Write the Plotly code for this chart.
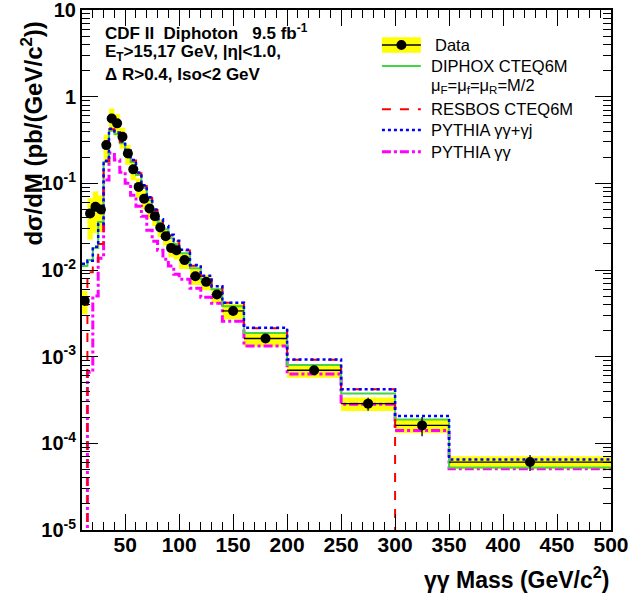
import plotly.graph_objects as go

# ---------------- data ----------------
bin_edges = [10, 15, 20, 25, 30, 35, 40, 45, 50, 55, 60, 65, 70, 75, 80, 85, 90, 95, 100,
             110, 120, 130, 140, 160, 200, 250, 300, 350, 500]

data_vals = [4.4e-3, 0.045, 0.0536, 0.050, 0.276, 0.561, 0.492, 0.344, 0.221, 0.145,
             0.091, 0.0665, 0.0513, 0.0418, 0.031, 0.0245, 0.018, 0.0169, 0.0130, 0.00848,
             0.0073, 0.00521, 0.00337, 0.00162, 0.000697, 0.000287, 0.000161, 0.0000608]

stat_rel = [0.06, 0.04, 0.04, 0.04, 0.02, 0.02, 0.02, 0.02, 0.02, 0.02, 0.02, 0.03, 0.03, 0.03,
            0.03, 0.03, 0.04, 0.04, 0.04, 0.04, 0.05, 0.05, 0.05, 0.06, 0.10, 0.17, 0.25, 0.21]

sys_rel = [0.30, 0.50, 0.50, 0.45, 0.32, 0.30, 0.28, 0.27, 0.26, 0.25, 0.25, 0.24, 0.24, 0.23,
           0.23, 0.22, 0.22, 0.22, 0.21, 0.21, 0.20, 0.20, 0.20, 0.19, 0.18, 0.18, 0.18, 0.17]

diphox = [0.0111, 0.0130, 0.0179, 0.0357, 0.176, 0.404, 0.370, 0.291, 0.229, 0.176,
          0.1245, 0.0881, 0.0640, 0.0459, 0.0352, 0.0296, 0.0233, 0.0199, 0.0156, 0.0105,
          0.00783, 0.0060, 0.00382, 0.00188, 0.00080, 0.000375, 0.000188, 0.0000525]

resbos = [0, 0.0094, 0.0125, 0.020, 0.180, 0.420, 0.380, 0.300, 0.236, 0.183,
          0.131, 0.093, 0.0680, 0.0492, 0.0380, 0.0318, 0.0250, 0.0214, 0.0168, 0.0112,
          0.0085, 0.0064, 0.0042, 0.00213, 0.00092, 0.00042, 0, 0]

pythia_gg_gj = [0.0118, 0.0128, 0.0185, 0.0340, 0.182, 0.425, 0.385, 0.305, 0.240, 0.186,
                0.133, 0.095, 0.0690, 0.0500, 0.0385, 0.0322, 0.0255, 0.0218, 0.0171, 0.0114,
                0.0086, 0.0065, 0.0042, 0.00215, 0.00093, 0.00042, 0.000207, 0.000065]

pythia_gg = [0, 6.6e-4, 5.0e-3, 0.0137, 0.109, 0.2234, 0.1853, 0.1346, 0.1005, 0.0731,
             0.0545, 0.0418, 0.0288, 0.0215, 0.0169, 0.0133, 0.0111, 0.00895, 0.00783, 0.00617,
             0.00485, 0.00414, 0.00256, 0.00133, 0.00063, 0.000282, 0.000141, 0.000051]

y_tick_vals = [1e-5, 1e-4, 1e-3, 1e-2, 1e-1, 1, 10]
y_tick_text = ["10<sup>-5</sup>", "10<sup>-4</sup>", "10<sup>-3</sup>", "10<sup>-2</sup>",
               "10<sup>-1</sup>", "1", "10"]

FONT = "Liberation Sans, Arial, Helvetica, sans-serif"
FLOOR = 1e-9

# ---------------- figure ----------------
fig = go.Figure()

centers = [(a + b) / 2 for a, b in zip(bin_edges[:-1], bin_edges[1:])]
half_w = [(b - a) / 2 for a, b in zip(bin_edges[:-1], bin_edges[1:])]

# yellow systematic band boxes
bx, by = [], []
for lo, hi, v, s in zip(bin_edges[:-1], bin_edges[1:], data_vals, sys_rel):
    bx += [lo, hi, hi, lo, lo, None]
    by += [v * (1 - s), v * (1 - s), v * (1 + s), v * (1 + s), v * (1 - s), None]
fig.add_trace(go.Scatter(x=bx, y=by, mode="lines", fill="toself", fillcolor="#ffff00",
                         line=dict(width=0, color="#ffff00"), hoverinfo="skip",
                         showlegend=False))


def step(vals, color, dash, width):
    yv = [v if v > 0 else FLOOR for v in vals]
    fig.add_trace(go.Scatter(x=bin_edges, y=yv + [yv[-1]], mode="lines", line_shape="hv",
                             line=dict(color=color, dash=dash, width=width),
                             showlegend=False))


step(pythia_gg, "#ff00ff", "dashdot", 3)
step(diphox, "#44d444", "solid", 2)
step(resbos, "#ff0000", "dash", 2)
step(pythia_gg_gj, "#0000ff", "dot", 2.5)

# data
fig.add_trace(go.Scatter(
    x=centers, y=data_vals, mode="markers",
    marker=dict(color="black", size=10),
    error_x=dict(type="data", array=half_w, color="black", thickness=1.3, width=0),
    error_y=dict(type="data", array=[v * s for v, s in zip(data_vals, stat_rel)],
                 color="black", thickness=1.3, width=0),
    showlegend=False))

# ---------------- layout ----------------
L, R, T, B = 81.5, 611.5, 10, 530
W, H = 632, 597
PW, PH = R - L, B - T


def px(xp):
    return (xp - L) / PW


def py(yp):
    return (B - yp) / PH


annotations = []
shapes = []

# header text
hdr = [
    (31.7, "<b>CDF II\u00a0\u00a0Diphoton\u00a0\u00a0\u00a09.5 fb<sup>-1</sup></b>"),
    (53.3, "<b>E<sub>T</sub>>15,17 GeV, |η|<1.0,</b>"),
    (74.0, "<b>Δ R>0.4, Iso<2 GeV</b>"),
]
for yy, t in hdr:
    annotations.append(dict(x=px(103), y=py(yy), xref="paper", yref="paper", text=t,
                            showarrow=False, xanchor="left", yanchor="middle",
                            font=dict(family=FONT, size=17, color="black")))

# legend
leg_font = dict(family=FONT, size=16.5, color="black")
x0s, x1s = px(382), px(421)
shapes.append(dict(type="rect", xref="paper", yref="paper", x0=x0s, x1=x1s,
                   y0=py(52.7), y1=py(37.3), fillcolor="#ffff00", line=dict(width=0)))
shapes.append(dict(type="line", xref="paper", yref="paper", x0=x0s, x1=x1s,
                   y0=py(45), y1=py(45), line=dict(color="black", width=1.5)))
shapes.append(dict(type="circle", xref="paper", yref="paper",
                   x0=px(401.5 - 5), x1=px(401.5 + 5), y0=py(45 + 5), y1=py(45 - 5),
                   fillcolor="black", line=dict(width=0)))
annotations.append(dict(x=px(433), y=py(45), xref="paper", yref="paper", text="Data",
                        showarrow=False, xanchor="left", yanchor="middle", font=leg_font))

leg_lines = [
    (66, "#44d444", "solid", 2, "DIPHOX CTEQ6M"),
    (109.3, "#ff0000", "dash", 2, "RESBOS CTEQ6M"),
    (130, "#0000ff", "dot", 2.5, "PYTHIA γγ+γj"),
    (151.7, "#ff00ff", "dashdot", 3, "PYTHIA γγ"),
]
for yy, c, d, w, t in leg_lines:
    shapes.append(dict(type="line", xref="paper", yref="paper", x0=x0s, x1=x1s,
                       y0=py(yy), y1=py(yy), line=dict(color=c, dash=d, width=w)))
    annotations.append(dict(x=px(429), y=py(yy), xref="paper", yref="paper", text=t,
                            showarrow=False, xanchor="left", yanchor="middle", font=leg_font))
annotations.append(dict(x=px(429), y=py(86), xref="paper", yref="paper",
                        text="μ<sub>F</sub>=μ<sub>f</sub>=μ<sub>R</sub>=M/2",
                        showarrow=False, xanchor="left", yanchor="middle", font=leg_font))

# axis titles
annotations.append(dict(x=px(611), y=py(578), xref="paper", yref="paper",
                        text="<b>γγ Mass (GeV/c<sup>2</sup>)</b>", showarrow=False,
                        xanchor="right", yanchor="middle",
                        font=dict(family=FONT, size=23, color="black")))
annotations.append(dict(x=px(31), y=py(134), xref="paper", yref="paper",
                        text="<b>dσ/dM (pb/(GeV/c<sup>2</sup>))</b>", showarrow=False,
                        textangle=-90, xanchor="center", yanchor="middle",
                        font=dict(family=FONT, size=24, color="black")))

fig.update_layout(
    width=W, height=H,
    margin=dict(l=L, r=W - R, t=T, b=H - B, pad=0, autoexpand=False),
    paper_bgcolor="white", plot_bgcolor="white",
    showlegend=False,
    annotations=annotations, shapes=shapes,
    xaxis=dict(range=[10, 500], tick0=0, dtick=50, ticks="inside", ticklen=16,
               tickwidth=1.3, tickcolor="black", showline=True, linewidth=2,
               linecolor="black", mirror="ticks", showgrid=False, zeroline=False,
               automargin=False, ticklabeloverflow="allow",
               tickfont=dict(family=FONT, size=21, color="black"),
               tickprefix="<b>", ticksuffix="</b>", ticklabelstandoff=-5,
               minor=dict(ticks="inside", ticklen=8, dtick=10, tick0=0, tickwidth=1.3,
                          tickcolor="black", showgrid=False)),
    yaxis=dict(type="log", range=[-5, 1], tickvals=y_tick_vals, ticktext=[
        "<b>" + t + "</b>" for t in y_tick_text], ticks="inside", ticklen=16,
               tickwidth=1.3, tickcolor="black", showline=True, linewidth=2,
               linecolor="black", mirror="ticks", showgrid=False, zeroline=False,
               automargin=False, ticklabeloverflow="allow",
               tickfont=dict(family=FONT, size=20, color="black"),
               minor=dict(ticks="inside", ticklen=8, dtick="D1", tickwidth=1.3,
                          tickcolor="black", showgrid=False)),
)

fig.write_html("out.html", config={"displayModeBar": False},
               post_script="document.body.style.margin='0px';")
